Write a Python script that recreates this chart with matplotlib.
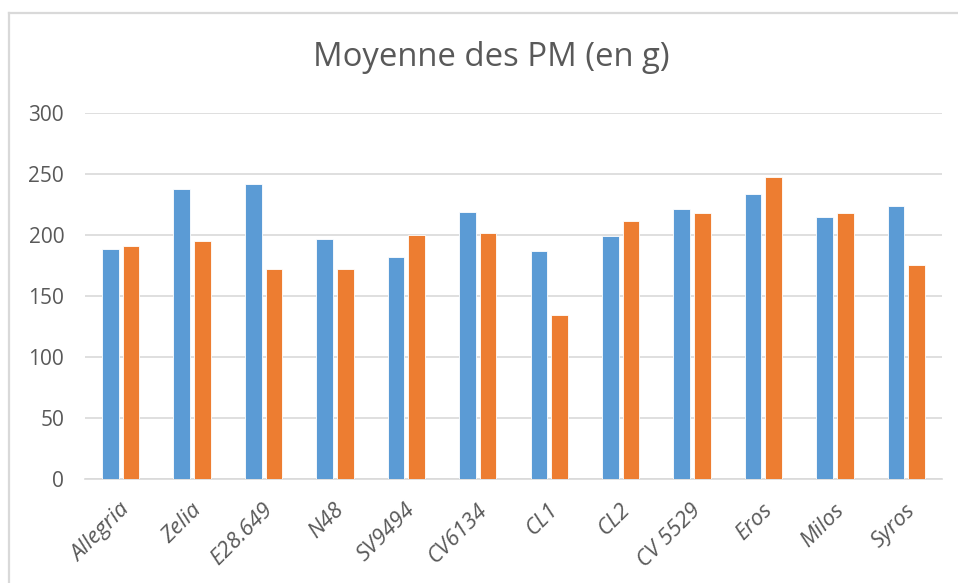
import matplotlib
matplotlib.use("Agg")
import matplotlib.pyplot as plt
import numpy as np
from matplotlib.lines import Line2D
import matplotlib.transforms as mtransforms

categories = ["Allegria", "Zelia", "E28.649", "N48", "SV9494", "CV6134",
              "CL1", "CL2", "CV 5529", "Eros", "Milos", "Syros"]
serie1 = [188.2, 237.5, 241.6, 196.6, 181.9, 218.4, 187.1, 198.8, 220.9, 233.2, 214.4, 223.9]
serie2 = [190.6, 194.7, 172.3, 172.3, 199.9, 201.8, 134.4, 211.1, 217.6, 247.1, 217.6, 175.6]
yticks = [0, 50, 100, 150, 200, 250, 300]
title = "Moyenne des PM (en g)"

plt.rcParams['font.family'] = ['Open Sans', 'DejaVu Sans']

W, H = 958, 583
fig = plt.figure(figsize=(W / 100, H / 100), dpi=100)
ax = fig.add_axes([85 / W, 1 - 479.3 / H, (942 - 85) / W, (479.3 - 112.7) / H])

x = np.arange(len(categories))
bw = 0.233
off = 0.145
ax.bar(x - off, serie1, bw, color="#5B9BD5", edgecolor="white", linewidth=0.6, zorder=3)
ax.bar(x + off, serie2, bw, color="#ED7D31", edgecolor="white", linewidth=0.6, zorder=3)

ax.set_xlim(-0.5, len(categories) - 0.5)
ax.set_ylim(0, 300)
ax.set_yticks(yticks)
ax.set_yticklabels([str(v) for v in yticks])
ax.yaxis.grid(True, color="#D9D9D9", linewidth=1.2, zorder=0)
ax.set_axisbelow(True)
for s in ["top", "right", "left"]:
    ax.spines[s].set_visible(False)
ax.spines["bottom"].set_color("#D9D9D9")
ax.spines["bottom"].set_linewidth(1.2)
ax.tick_params(axis="both", length=0, colors="#595959", labelsize=15)
ax.tick_params(axis="y", pad=15)

ax.set_xticks(x)
ax.set_xticklabels(categories, rotation=45, ha="right", va="center",
                   rotation_mode="anchor", fontstyle="italic", fontsize=16,
                   color="#595959")
ax.tick_params(axis="x", pad=20)
shift = mtransforms.ScaledTranslation(6 / 100, 0, fig.dpi_scale_trans)
for lab in ax.get_xticklabels():
    lab.set_transform(lab.get_transform() + shift)

fig.text(491 / W, 1 - 57 / H, title, ha="center", va="center",
         fontsize=23.7, color="#595959")

# chart border
fig.add_artist(Line2D([9 / W, 9 / W], [0, 1 - 13 / H], transform=fig.transFigure,
                      color="#D9D9D9", linewidth=1.6))
fig.add_artist(Line2D([9 / W, 1], [1 - 13 / H, 1 - 13 / H], transform=fig.transFigure,
                      color="#D9D9D9", linewidth=1.6))

fig.savefig("out.png", dpi=100, facecolor="white")
